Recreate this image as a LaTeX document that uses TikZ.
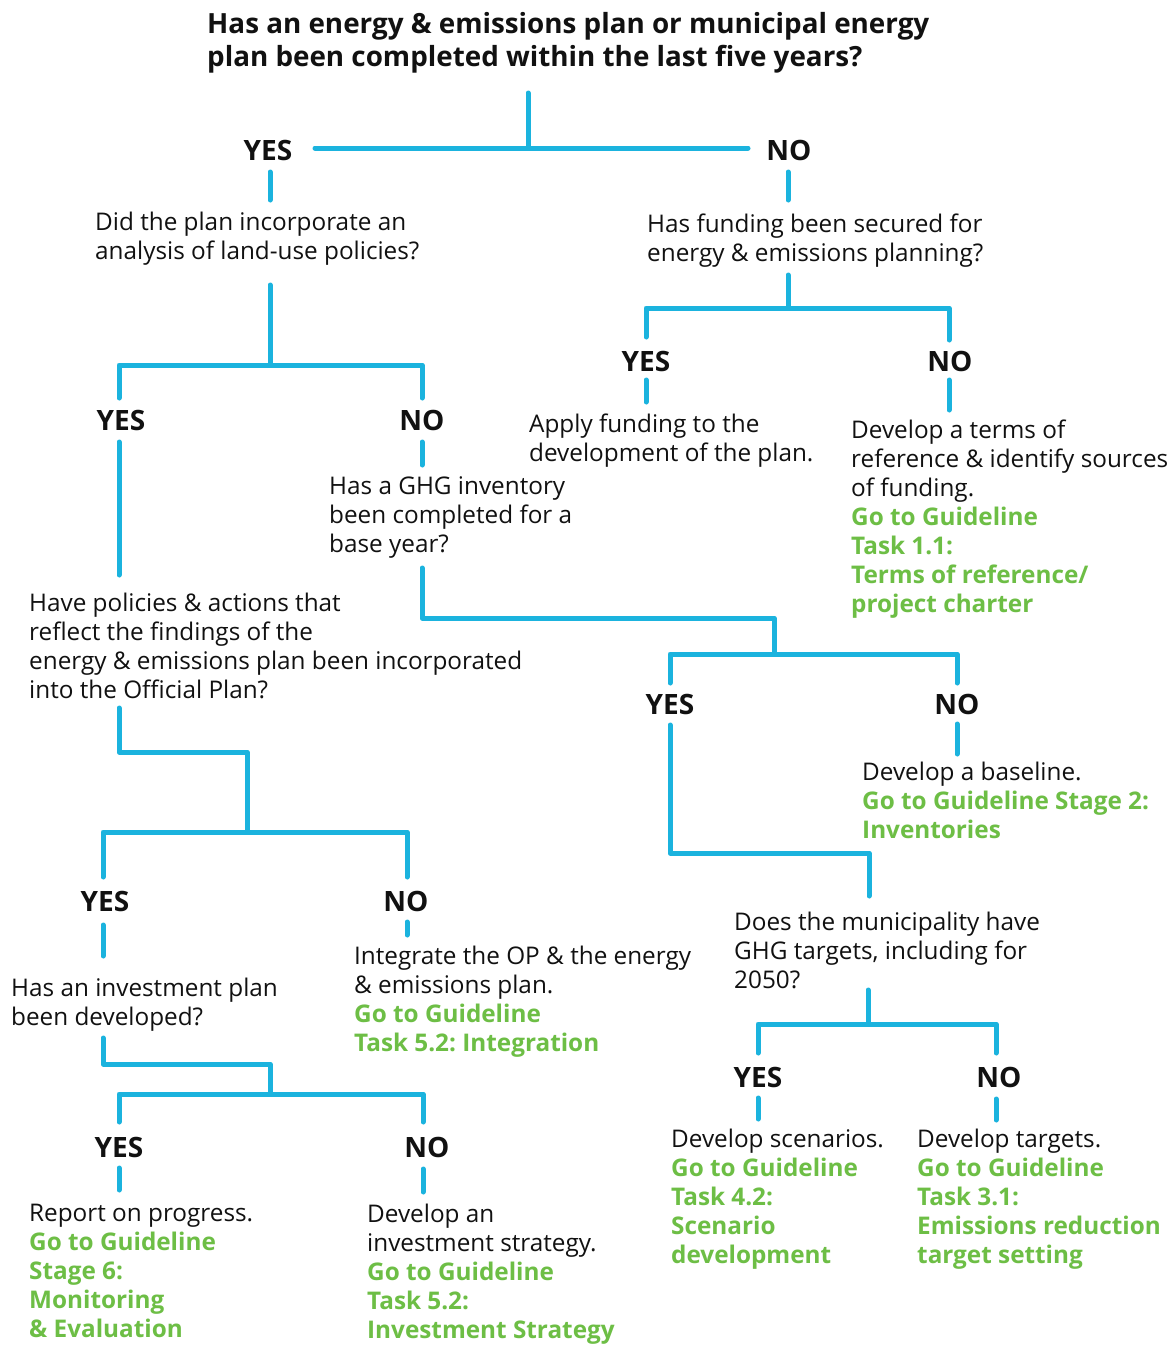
\documentclass[tikz,border=0pt]{standalone}
\usepackage{fontspec}
\setmainfont{Open Sans}
\usepackage{xcolor}
\definecolor{lineblue}{HTML}{1BB3DE}
\definecolor{gogreen}{HTML}{6DBE45}
\definecolor{ink}{HTML}{111111}
\newcommand{\go}[1]{{\bfseries\color{gogreen}#1}}
\frenchspacing

\begin{document}
\begin{tikzpicture}[x=1pt,y=-1pt,
  txt/.style={anchor=north west, inner sep=0pt, align=left, yshift=20.3pt,
              text=ink, font=\fontsize{24.3}{29}\selectfont},
  ttl/.style={anchor=north west, inner sep=0pt, align=left, yshift=23.1pt,
              text=ink, font=\bfseries\fontsize{27.8}{33}\selectfont},
  lab/.style={anchor=base, inner sep=0pt, text=ink,
              font=\bfseries\fontsize{28}{30}\selectfont},
  wire/.style={draw=lineblue, line width=5pt, line cap=round, line join=round}]

\fill[white] (0,0) rectangle (1174,1345);
\useasboundingbox (0,0) rectangle (1174,1345);

% ---------- title ----------
\node[ttl] (title) at (207,33) {\strut Has an energy \& emissions plan or municipal energy\\
  plan been completed within the last five years?};

% ---------- questions and outcomes ----------
\node[txt] (q1) at (95,230) {\strut Did the plan incorporate an\\analysis of land-use policies?};
\node[txt] (q2) at (647,232) {\strut Has funding been secured for\\energy \& emissions planning?};
\node[txt] (a2y) at (529,432) {\strut Apply funding to the\\development of the plan.};
\node[txt] (a2n) at (851,438) {\strut Develop a terms of\\reference \& identify sources\\of funding.\\
  \go{Go to Guideline}\\\go{Task 1.1:}\\\go{Terms of reference/}\\\go{project charter}};
\node[txt] (q3) at (329,494) {\strut Has a GHG inventory\\been completed for a\\base year?};
\node[txt] (q4) at (29,611) {\strut Have policies \& actions that\\reflect the findings of the\\
  energy \& emissions plan been incorporated\\into the Official Plan?};
\node[txt] (a3n) at (862,780) {\strut Develop a baseline.\\\go{Go to Guideline Stage 2:}\\\go{Inventories}};
\node[txt] (q5) at (734,930) {\strut Does the municipality have\\GHG targets, including for\\2050?};
\node[txt] (a4n) at (354,964) {\strut Integrate the OP \& the energy\\\& emissions plan.\\
  \go{Go to Guideline}\\\go{Task 5.2: Integration}};
\node[txt] (q6) at (11,996) {\strut Has an investment plan\\been developed?};
\node[txt] (a5y) at (671,1147) {\strut Develop scenarios.\\\go{Go to Guideline}\\\go{Task 4.2:}\\
  \go{Scenario}\\\go{development}};
\node[txt] (a5n) at (917,1147) {\strut Develop targets.\\\go{Go to Guideline}\\\go{Task 3.1:}\\
  \go{Emissions reduction}\\\go{target setting}};
\node[txt] (a6y) at (29,1221) {\strut Report on progress.\\\go{Go to Guideline}\\\go{Stage 6:}\\
  \go{Monitoring}\\\go{\& Evaluation}};
\node[txt] (a6n) at (367,1222) {\strut Develop an\\investment strategy.\\\go{Go to Guideline}\\
  \go{Task 5.2:}\\\go{Investment Strategy}};

% ---------- YES / NO labels ----------
\node[lab] (y1) at (268,160) {YES};
\node[lab] (n1) at (789,160) {NO};
\node[lab] (y2) at (121,430) {YES};
\node[lab] (n2) at (422,430) {NO};
\node[lab] (y3) at (646,371) {YES};
\node[lab] (n3) at (950,371) {NO};
\node[lab] (y4) at (670,714) {YES};
\node[lab] (n4) at (957,714) {NO};
\node[lab] (y5) at (105,911) {YES};
\node[lab] (n5) at (406,911) {NO};
\node[lab] (y6) at (758,1087) {YES};
\node[lab] (n6) at (999,1087) {NO};
\node[lab] (y7) at (119,1157) {YES};
\node[lab] (n7) at (427,1157) {NO};

% ---------- connector end points ----------
\coordinate (t0) at (528,93);   \coordinate (t1) at (528,148);
\coordinate (t2) at (315,148);  \coordinate (t3) at (748,148);
\coordinate (y1a) at (270,172); \coordinate (y1b) at (270,200);
\coordinate (n1a) at (788,172); \coordinate (n1b) at (788,200);

\coordinate (q1a) at (270,285); \coordinate (q1b) at (270,365);
\coordinate (b1l) at (119,398); \coordinate (b1lc) at (119,365);
\coordinate (b1rc) at (422,365); \coordinate (b1r) at (422,398);
\coordinate (y2a) at (119,442); \coordinate (y2b) at (119,575);
\coordinate (n2a) at (422,442); \coordinate (n2b) at (422,465);

\coordinate (q2a) at (788,275); \coordinate (q2b) at (788,308);
\coordinate (b2l) at (646,337); \coordinate (b2lc) at (646,308);
\coordinate (b2rc) at (949,308); \coordinate (b2r) at (949,340);
\coordinate (y3a) at (646,380); \coordinate (y3b) at (646,402);
\coordinate (n3a) at (949,380); \coordinate (n3b) at (949,410);

\coordinate (q3a) at (422,568); \coordinate (q3c1) at (422,618);
\coordinate (q3c2) at (774,618); \coordinate (q3b) at (774,654);
\coordinate (b3l) at (670,683); \coordinate (b3lc) at (670,654);
\coordinate (b3rc) at (957,654); \coordinate (b3r) at (957,683);
\coordinate (y4a) at (670,725); \coordinate (y4c1) at (670,853);
\coordinate (y4c2) at (869,853); \coordinate (y4b) at (869,896);
\coordinate (n4a) at (957,724); \coordinate (n4b) at (957,754);

\coordinate (q5a) at (868,990); \coordinate (q5b) at (868,1024);
\coordinate (b5l) at (758,1053); \coordinate (b5lc) at (758,1024);
\coordinate (b5rc) at (996,1024); \coordinate (b5r) at (996,1053);
\coordinate (y6a) at (758,1098); \coordinate (y6b) at (758,1119);
\coordinate (n6a) at (996,1099); \coordinate (n6b) at (996,1120);

\coordinate (q4a) at (119,708); \coordinate (q4c1) at (119,752);
\coordinate (q4c2) at (247,752); \coordinate (q4b) at (247,832);
\coordinate (b4l) at (103,877); \coordinate (b4lc) at (103,832);
\coordinate (b4rc) at (407,832); \coordinate (b4r) at (407,877);
\coordinate (y5a) at (103,925); \coordinate (y5b) at (103,956);
\coordinate (n5a) at (407,922); \coordinate (n5b) at (407,935);

\coordinate (q6a) at (103,1038); \coordinate (q6c1) at (103,1064);
\coordinate (q6c2) at (270,1064); \coordinate (q6b) at (270,1094);
\coordinate (b6l) at (119,1122); \coordinate (b6lc) at (119,1094);
\coordinate (b6rc) at (423,1094); \coordinate (b6r) at (423,1122);
\coordinate (y7a) at (119,1168); \coordinate (y7b) at (119,1190);
\coordinate (n7a) at (423,1169); \coordinate (n7b) at (423,1192);

% ---------- connectors ----------
\draw[wire] (t0) -- (t1);
\draw[wire] (t2) -- (t3);
\draw[wire] (y1a) -- (y1b);
\draw[wire] (n1a) -- (n1b);

\draw[wire] (q1a) -- (q1b);
\draw[wire] (b1l) -- (b1lc) -- (b1rc) -- (b1r);
\draw[wire] (y2a) -- (y2b);
\draw[wire] (n2a) -- (n2b);

\draw[wire] (q2a) -- (q2b);
\draw[wire] (b2l) -- (b2lc) -- (b2rc) -- (b2r);
\draw[wire] (y3a) -- (y3b);
\draw[wire] (n3a) -- (n3b);

\draw[wire] (q3a) -- (q3c1) -- (q3c2) -- (q3b);
\draw[wire] (b3l) -- (b3lc) -- (b3rc) -- (b3r);
\draw[wire] (y4a) -- (y4c1) -- (y4c2) -- (y4b);
\draw[wire] (n4a) -- (n4b);

\draw[wire] (q5a) -- (q5b);
\draw[wire] (b5l) -- (b5lc) -- (b5rc) -- (b5r);
\draw[wire] (y6a) -- (y6b);
\draw[wire] (n6a) -- (n6b);

\draw[wire] (q4a) -- (q4c1) -- (q4c2) -- (q4b);
\draw[wire] (b4l) -- (b4lc) -- (b4rc) -- (b4r);
\draw[wire] (y5a) -- (y5b);
\draw[wire] (n5a) -- (n5b);

\draw[wire] (q6a) -- (q6c1) -- (q6c2) -- (q6b);
\draw[wire] (b6l) -- (b6lc) -- (b6rc) -- (b6r);
\draw[wire] (y7a) -- (y7b);
\draw[wire] (n7a) -- (n7b);

\end{tikzpicture}
\end{document}
